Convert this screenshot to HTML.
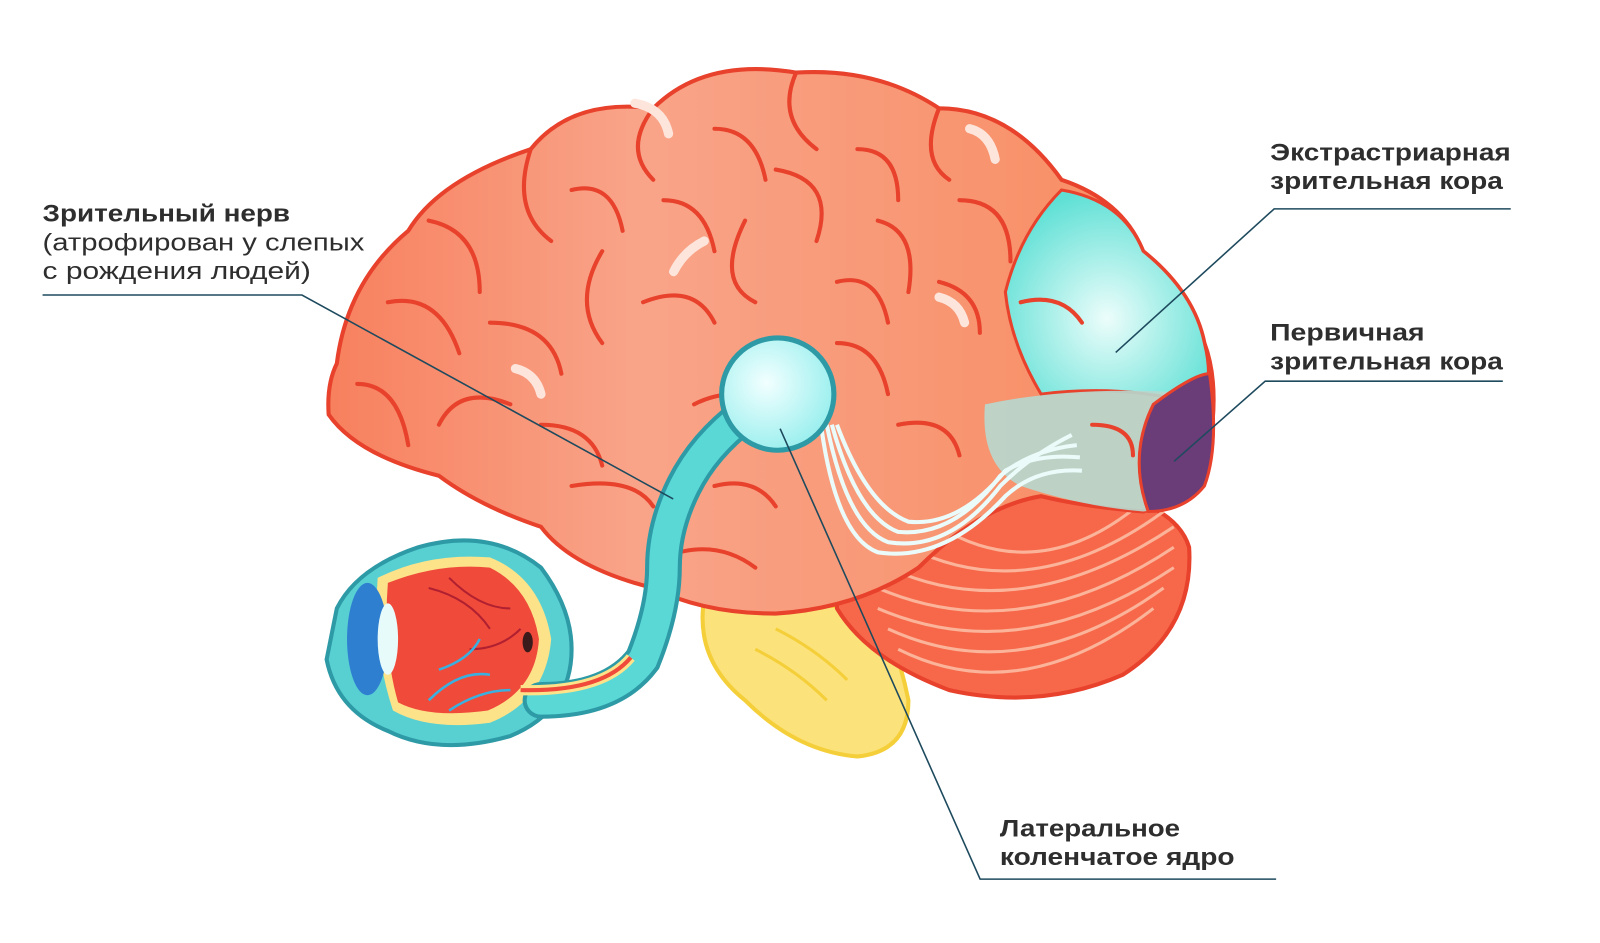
<!DOCTYPE html>
<html><head><meta charset="utf-8"><style>
html,body{margin:0;padding:0;background:#fff;width:1600px;height:943px;overflow:hidden}
svg{display:block}
text{font-family:"Liberation Sans",sans-serif;font-size:24px;fill:#2e2e2e}
</style></head><body>
<svg width="1600" height="943" viewBox="0 0 1600 943" xmlns="http://www.w3.org/2000/svg">
<defs>
<linearGradient id="br" x1="0" y1="0" x2="1" y2="0">
<stop offset="0" stop-color="#f7805e"/><stop offset="0.35" stop-color="#f9a489"/><stop offset="1" stop-color="#f78a5e"/>
</linearGradient>
<radialGradient id="cy" cx="0.5" cy="0.6" r="0.6"><stop offset="0" stop-color="#ecfdfb"/><stop offset="1" stop-color="#5fe0d5"/></radialGradient>
<radialGradient id="lg" cx="0.4" cy="0.4" r="0.6"><stop offset="0" stop-color="#f2ffff"/><stop offset="1" stop-color="#9ef0ef"/></radialGradient>
</defs>
<g transform="scale(0.99)">
<g transform="translate(0,-4) scale(1.031)">
<path d="M690 590 Q680 650 730 690 Q780 740 840 745 Q890 740 890 690 Q880 640 860 600 Z" fill="#fbe27a" stroke="#f5cf3a" stroke-width="4"/>
<path d="M740 640 Q780 660 810 690 M760 620 Q800 640 830 670" stroke="#f5cf3a" stroke-width="3" fill="none"/>
<path d="M820 520 Q900 470 1040 480 Q1150 490 1165 540 Q1170 620 1100 665 Q1020 700 930 680 Q850 650 820 600 Z" fill="#f7684a" stroke="#e8412c" stroke-width="4"/>
<g stroke="#fbb39a" stroke-width="3" fill="none">
<path d="M880 640 Q1000 700 1130 600"/><path d="M870 620 Q1000 680 1140 580"/><path d="M860 600 Q1000 660 1150 560"/><path d="M860 580 Q1000 640 1150 540"/><path d="M870 560 Q1000 620 1150 520"/><path d="M890 540 Q1010 600 1140 505"/><path d="M920 520 Q1020 580 1120 495"/>
</g>
<path d="M330 360 Q340 280 400 230 Q430 180 520 150 Q560 100 640 110 Q690 60 780 75 Q860 70 920 110 Q990 110 1040 180 Q1100 200 1120 250 Q1170 290 1180 340 Q1195 380 1185 440 Q1175 490 1120 505 Q1060 500 1020 490 Q960 500 900 560 Q840 600 760 605 Q690 605 640 580 Q560 560 530 520 Q470 500 430 470 Q350 450 322 410 Q320 380 330 360 Z" fill="url(#br)" stroke="#e8412c" stroke-width="4"/>
<path d="M1040 190 Q1100 200 1120 250 Q1170 290 1180 340 Q1190 380 1175 400 Q1100 380 1020 390 Q990 340 985 290 Q1000 230 1040 190 Z" fill="url(#cy)" stroke="#e8412c" stroke-width="3"/>
<path d="M965 400 Q1060 380 1180 390 L1185 450 Q1170 500 1120 505 Q1060 500 1000 480 Q960 460 965 400 Z" fill="#b7d8cf" opacity="0.9"/>
<path d="M1130 400 Q1170 370 1185 370 Q1195 440 1180 480 Q1160 505 1125 505 Q1105 450 1130 400 Z" fill="#6a3c78" stroke="#e8412c" stroke-width="3"/>
<g stroke="#e8412c" stroke-width="4" fill="none" stroke-linecap="round">
<path d="M420 220 Q470 230 470 290"/><path d="M380 300 Q430 290 450 350"/><path d="M350 380 Q390 380 400 440"/><path d="M430 420 Q450 380 500 400"/>
<path d="M520 150 Q500 210 540 240"/><path d="M560 190 Q600 180 610 230"/><path d="M590 250 Q560 300 590 340"/><path d="M640 110 Q610 150 640 180"/>
<path d="M650 200 Q690 200 700 250"/><path d="M630 300 Q680 280 700 320"/><path d="M700 130 Q740 130 750 180"/><path d="M780 75 Q760 120 800 150"/>
<path d="M760 170 Q820 180 800 240"/><path d="M730 220 Q700 280 740 300"/><path d="M840 150 Q880 150 880 200"/><path d="M920 110 Q900 160 930 180"/>
<path d="M860 220 Q900 230 890 290"/><path d="M940 200 Q990 200 990 260"/><path d="M820 280 Q860 270 870 320"/><path d="M920 280 Q960 290 960 330"/>
<path d="M480 320 Q540 320 550 370"/><path d="M530 420 Q580 420 590 460"/><path d="M560 480 Q620 470 640 500"/><path d="M680 400 Q720 380 760 400"/>
<path d="M820 340 Q860 340 870 390"/><path d="M880 420 Q930 410 940 450"/><path d="M700 480 Q740 470 760 500"/><path d="M650 550 Q700 530 740 560"/>
<path d="M1000 300 Q1040 290 1060 320"/><path d="M1070 420 Q1110 420 1110 450"/>
</g>
<g stroke="#fde5dc" stroke-width="9" fill="none" stroke-linecap="round">
<path d="M622 105 Q650 110 655 135"/><path d="M950 130 Q970 135 975 160"/><path d="M690 240 Q670 250 660 270"/><path d="M505 365 Q525 370 530 390"/><path d="M920 295 Q940 300 945 320"/>
</g>
<g stroke="#eafbfa" stroke-width="4" fill="none">
<path d="M810 420 Q830 520 870 535 Q930 545 980 480 Q1010 450 1050 430"/>
<path d="M815 420 Q840 510 880 525 Q935 530 980 470 Q1010 445 1055 440"/>
<path d="M820 420 Q850 500 890 515 Q940 520 985 465 Q1015 448 1058 452"/>
<path d="M805 425 Q820 530 860 545 Q925 555 985 490 Q1015 462 1060 465"/>
</g>
<path d="M330 600 Q350 560 410 540 Q480 520 530 560 Q560 600 560 640 Q560 700 500 725 Q430 745 380 720 Q330 700 320 650 Z" fill="#58d0d2" stroke="#2d9aa6" stroke-width="4"/>
<path d="M370 570 Q420 545 480 550 Q530 570 540 630 Q535 690 480 712 Q420 720 385 700 Q365 640 370 570 Z" fill="#fce38a"/>
<path d="M380 575 Q430 555 480 560 Q520 580 528 630 Q525 680 478 700 Q420 708 390 692 Q375 640 380 575 Z" fill="#f04a3a"/>
<g stroke="#b02030" stroke-width="2" fill="none"><path d="M420 580 Q460 590 480 620"/><path d="M440 570 Q470 600 500 600"/><path d="M460 640 Q490 640 510 620"/></g>
<g stroke="#3ab0e0" stroke-width="2.5" fill="none"><path d="M420 690 Q450 660 480 665"/><path d="M440 700 Q470 680 500 680"/><path d="M430 660 Q460 650 470 630"/></g>
<ellipse cx="360" cy="630" rx="20" ry="55" fill="#2e7fd0"/>
<ellipse cx="380" cy="630" rx="10" ry="35" fill="#e8fbfb"/>
<ellipse cx="517" cy="633" rx="5" ry="10" fill="#3a1a1a"/>
<path d="M530 690 Q600 690 630 650 Q650 600 650 560 Q650 520 670 480 Q690 440 730 410" stroke="#2d9aa6" stroke-width="36" fill="none" stroke-linecap="round"/>
<path d="M530 690 Q600 690 630 650 Q650 600 650 560 Q650 520 670 480 Q690 440 730 410" stroke="#5ad8d6" stroke-width="28" fill="none" stroke-linecap="round"/>
<path d="M510 680 Q590 682 618 648" stroke="#fce38a" stroke-width="10" fill="none"/>
<path d="M510 680 Q590 682 618 648" stroke="#f04a3a" stroke-width="4" fill="none"/>
<circle cx="762" cy="390" r="55" fill="url(#lg)" stroke="#2d9aa6" stroke-width="5"/>
</g>
<g stroke="#1e4a5e" stroke-width="1.6" fill="none">
<path d="M43 298 L305 298 L680 504"/>
<path d="M1526 211 L1287 211 L1127 356"/>
<path d="M1518 385 L1278 385 L1186 466"/>
<path d="M788 433 L990 888 L1289 888"/>
</g>
<text x="43" y="224" font-weight="bold" textLength="250" lengthAdjust="spacingAndGlyphs">Зрительный нерв</text>
<text x="43" y="253" textLength="325" lengthAdjust="spacingAndGlyphs">(атрофирован у слепых</text>
<text x="43" y="282" textLength="271" lengthAdjust="spacingAndGlyphs">с рождения людей)</text>
<text x="1283" y="162" font-weight="bold" textLength="243" lengthAdjust="spacingAndGlyphs">Экстрастриарная</text>
<text x="1283" y="191" font-weight="bold" textLength="235" lengthAdjust="spacingAndGlyphs">зрительная кора</text>
<text x="1283" y="344" font-weight="bold" textLength="156" lengthAdjust="spacingAndGlyphs">Первичная</text>
<text x="1283" y="373" font-weight="bold" textLength="235" lengthAdjust="spacingAndGlyphs">зрительная кора</text>
<text x="1010" y="845" font-weight="bold" textLength="182" lengthAdjust="spacingAndGlyphs">Латеральное</text>
<text x="1010" y="874" font-weight="bold" textLength="237" lengthAdjust="spacingAndGlyphs">коленчатое ядро</text>
</g>
</svg>
</body></html>
